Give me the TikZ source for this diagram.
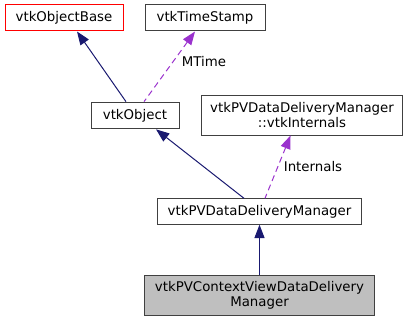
\documentclass[tikz,border=0pt]{standalone}
\usepackage{fontspec}
\setmainfont{DejaVu Sans}
\usetikzlibrary{arrows.meta}
\begin{document}
\begin{tikzpicture}[x=0.75pt,y=-0.75pt,
  cls/.style={draw=black!75, line width=0.75pt, fill=white, inner sep=0pt,
    align=center, font=\fontsize{10pt}{11.5pt}\selectfont},
  inherit/.style={draw={rgb,255:red,25;green,25;blue,112}, line width=0.75pt,
    {Triangle[length=10pt,width=7.5pt]}-},
  usage/.style={draw={rgb,255:red,154;green,50;blue,205}, line width=0.75pt,
    dash pattern=on 4.5pt off 3pt,
    {Triangle[length=10pt,width=7.5pt]}-},
  elabel/.style={font=\fontsize{10pt}{11.5pt}\selectfont, inner sep=0pt}]
\useasboundingbox (0,0) rectangle (409,321);

% classes
\node[cls, draw=red, minimum width=88.5pt, minimum height=19.5pt] (base) at (64,18) {vtkObjectBase};
\node[cls, minimum width=90pt, minimum height=19.5pt] (ts) at (205,18) {vtkTimeStamp};
\node[cls, minimum width=66pt, minimum height=20pt] (obj) at (135,115.5) {vtkObject};
\node[cls, minimum width=151pt, minimum height=30pt] (intern) at (302,115) {vtkPVDataDeliveryManager\\::vtkInternals};
\node[cls, minimum width=153pt, minimum height=19pt] (ddm) at (259.5,211.5) {vtkPVDataDeliveryManager};
\node[cls, fill={rgb,255:red,191;green,191;blue,191}, minimum width=172.5pt, minimum height=30pt] (ctx) at (259.5,295) {vtkPVContextViewDataDelivery\\Manager};

% inheritance
\draw[inherit] ([xshift=9.75pt]base.south) -- ([xshift=-6.75pt]obj.north);
\draw[inherit] ([xshift=15.75pt]obj.south) -- ([xshift=-11.6pt]ddm.north);
\draw[inherit] (ddm.south) -- (ctx.north);

% members
\draw[usage] ([xshift=-7.5pt]ts.south) -- ([xshift=6.75pt]obj.north);
\draw[usage] ([xshift=-8.6pt]intern.south) -- ([xshift=4.1pt]ddm.north);

% member labels
\node[elabel] (lmt) at (204,62) {MTime};
\node[elabel] (lint) at (313,167) {Internals};
\end{tikzpicture}
\end{document}
